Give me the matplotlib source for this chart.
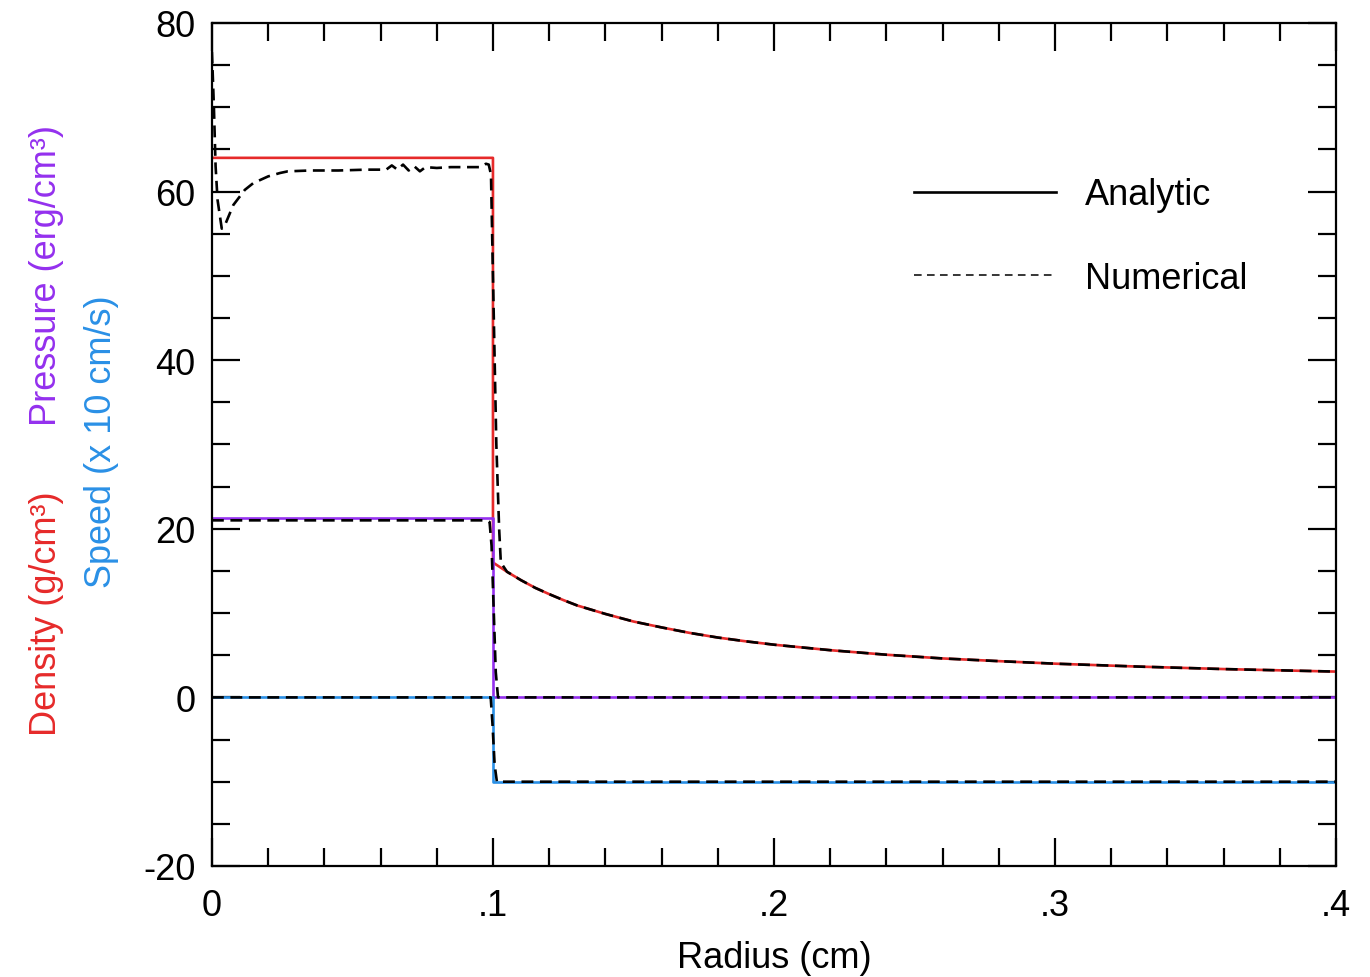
#!/usr/bin/env python3
"""
Shock tube comparison plot: analytic vs numerical profiles of density,
pressure and speed against radius.
"""

import matplotlib
matplotlib.use("Agg")
import matplotlib.pyplot as plt
from matplotlib.lines import Line2D
from matplotlib.ticker import MultipleLocator, FixedFormatter, FixedLocator

# =============================================================================
# DATA
# =============================================================================
# Analytic density (g/cm^3)
R_DENS_ANA = [0.0, 0.1, 0.1, 0.105, 0.11, 0.115, 0.12, 0.125, 0.13, 0.14, 0.15,
              0.16, 0.17, 0.18, 0.19, 0.2, 0.22, 0.24, 0.26, 0.28, 0.3, 0.33,
              0.36, 0.4]
DENS_ANA = [64.0, 64.0, 16.0, 14.9, 13.9, 13.0, 12.25, 11.55, 10.9, 9.9, 9.0,
            8.3, 7.65, 7.1, 6.65, 6.25, 5.6, 5.06, 4.62, 4.3, 4.0, 3.65,
            3.36, 3.06]

# Numerical density
R_DENS_NUM = [0.0, 0.0007, 0.0013, 0.002, 0.0035, 0.0046, 0.0076, 0.0117, 0.0147,
              0.02, 0.0242, 0.027, 0.035, 0.045, 0.055, 0.062, 0.064, 0.066,
              0.068, 0.07, 0.072, 0.074, 0.076, 0.08, 0.085, 0.09, 0.0954,
              0.0975, 0.0985, 0.0993, 0.1, 0.1012, 0.1022, 0.1028, 0.105, 0.11,
              0.115, 0.12, 0.125, 0.13, 0.14, 0.15, 0.16, 0.17, 0.18, 0.19, 0.2,
              0.22, 0.24, 0.26, 0.28, 0.3, 0.33, 0.36, 0.4]
DENS_NUM = [76.6, 70.0, 63.0, 59.0, 55.6, 56.0, 58.4, 60.2, 61.0,
            61.8, 62.2, 62.4, 62.5, 62.5, 62.6, 62.6, 63.1, 62.6,
            63.2, 62.5, 63.0, 62.4, 62.9, 62.8, 62.9, 62.9, 62.9,
            63.3, 63.2, 62.0, 50.0, 30.0, 20.0, 16.0, 14.9, 13.9,
            13.0, 12.25, 11.55, 10.9, 9.9, 9.0, 8.3, 7.65, 7.1, 6.65, 6.25,
            5.6, 5.06, 4.62, 4.3, 4.0, 3.65, 3.36, 3.06]

# Pressure (erg/cm^3)
R_PRES_ANA = [0.0, 0.1, 0.1, 0.4]
PRES_ANA = [21.33, 21.33, 0.0, 0.0]
R_PRES_NUM = [0.0, 0.0975, 0.0988, 0.0995, 0.1003, 0.101, 0.1018, 0.4]
PRES_NUM = [21.0, 21.0, 20.8, 18.0, 10.0, 3.0, 0.0, 0.0]

# Speed (x 10 cm/s)
R_SPEED_ANA = [0.0, 0.1, 0.1, 0.4]
SPEED_ANA = [0.0, 0.0, -10.0, -10.0]
R_SPEED_NUM = [0.0, 0.0992, 0.0998, 0.1006, 0.1014, 0.4]
SPEED_NUM = [0.0, 0.0, -3.0, -8.0, -10.0, -10.0]

X_TICKS = [0.0, 0.1, 0.2, 0.3, 0.4]
X_TICK_LABELS = ["0", ".1", ".2", ".3", ".4"]
Y_TICKS = [-20, 0, 20, 40, 60, 80]
Y_TICK_LABELS = ["-20", "0", "20", "40", "60", "80"]

# =============================================================================
# STYLE
# =============================================================================
RED = "#e62a2a"
PURPLE = "#9430ee"
BLUE = "#2a90e6"
FONT = "Liberation Sans"
FONTSIZE = 26
LW = 1.9
DASH = (4.5, 2.5)


def main() -> None:
    plt.rcParams["font.family"] = [FONT, "DejaVu Sans"]
    plt.rcParams["axes.unicode_minus"] = False

    fig = plt.figure(figsize=(13.7, 9.78), dpi=100)
    ax = fig.add_axes([0.1547, 0.1135, 0.8205, 0.862])

    # analytic (coloured, solid)
    ax.plot(R_DENS_ANA, DENS_ANA, color=RED, lw=LW)
    ax.plot(R_PRES_ANA, PRES_ANA, color=PURPLE, lw=LW)
    ax.plot(R_SPEED_ANA, SPEED_ANA, color=BLUE, lw=LW)

    # numerical (black, dashed, on top)
    for r, v in [(R_DENS_NUM, DENS_NUM), (R_PRES_NUM, PRES_NUM), (R_SPEED_NUM, SPEED_NUM)]:
        ax.plot(r, v, color="black", lw=LW, linestyle=(0, DASH))

    ax.set_xlim(0, 0.4)
    ax.set_ylim(-20, 80)

    ax.xaxis.set_major_locator(FixedLocator(X_TICKS))
    ax.xaxis.set_major_formatter(FixedFormatter(X_TICK_LABELS))
    ax.xaxis.set_minor_locator(MultipleLocator(0.02))
    ax.yaxis.set_major_locator(FixedLocator(Y_TICKS))
    ax.yaxis.set_major_formatter(FixedFormatter(Y_TICK_LABELS))
    ax.yaxis.set_minor_locator(MultipleLocator(5))

    ax.tick_params(which="both", direction="in", top=True, right=True,
                   width=1.6, labelsize=FONTSIZE)
    ax.tick_params(which="major", length=20)
    ax.tick_params(which="minor", length=13)
    ax.tick_params(axis="x", which="major", pad=16)
    ax.tick_params(axis="y", which="major", pad=12)
    for sp in ax.spines.values():
        sp.set_linewidth(1.6)

    ax.set_xlabel("Radius (cm)", fontsize=FONTSIZE, labelpad=12)

    # multi-coloured y labels
    fig.text(0.034, 0.372, "Density (g/cm³)", color=RED, fontsize=FONTSIZE,
             rotation=90, ha="center", va="center")
    fig.text(0.034, 0.718, "Pressure (erg/cm³)", color=PURPLE, fontsize=FONTSIZE,
             rotation=90, ha="center", va="center")
    fig.text(0.074, 0.548, "Speed (x 10 cm/s)", color=BLUE, fontsize=FONTSIZE,
             rotation=90, ha="center", va="center")

    handles = [
        Line2D([], [], color="black", lw=LW),
        Line2D([], [], color="black", lw=1.1, linestyle=(0, (5, 3.5))),
    ]
    ax.legend(handles, ["Analytic", "Numerical"], loc="upper left",
              bbox_to_anchor=(0.6115, 0.834), frameon=False, fontsize=FONTSIZE,
              handlelength=3.95, handletextpad=0.8, labelspacing=1.35,
              borderaxespad=0)

    fig.savefig("out.png", dpi=100)
    plt.close(fig)


if __name__ == "__main__":
    main()
